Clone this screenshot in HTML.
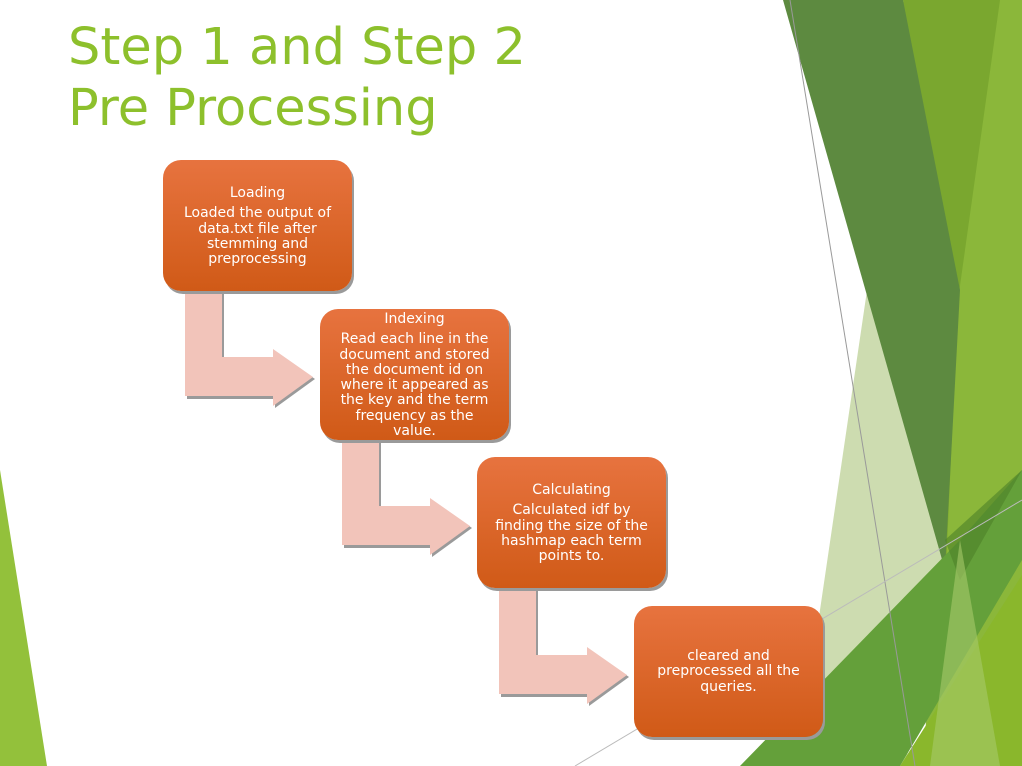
<!DOCTYPE html>
<html><head><meta charset="utf-8"><style>
body{margin:0;width:1022px;height:766px;overflow:hidden;background:#fff;position:relative;font-family:"DejaVu Sans","Liberation Sans",sans-serif}
svg{position:absolute;left:0;top:0}
.t{position:absolute;left:68px;color:#8dc02c;font-size:51px;line-height:61px;top:17px;font-family:"DejaVu Sans",sans-serif}
.b{position:absolute;width:189px;height:131px;border-radius:18px;background:linear-gradient(#e7733f,#d05a17);box-shadow:2px 3px 0 #9a9a9a;color:#fff;font-size:14px;line-height:15.3px;text-align:center;box-sizing:border-box;padding:0 14px}
</style></head><body>
<svg width="1022" height="766">
<polygon points="0,470 47,766 0,766" fill="#93c13b"/>
<polygon points="940,0 1022,0 1022,766 925,766" fill="#8bb73a"/>
<polygon points="903,0 1000,0 958,300 946,570" fill="#7aa72f"/>
<polygon points="820,610 870,270 945,570 905,766 800,766" fill="#cddcb0"/>
<polygon points="783,0 903,0 960,290 945,570" fill="#5d8a40"/>
<polygon points="740,766 960,540 1022,470 1022,560 900,766" fill="#64a03a"/>
<polygon points="945,540 1022,470 960,580" fill="#4d8028" opacity="0.6"/>
<polygon points="900,766 1022,575 1022,766" fill="#8ab72c"/>
<polygon points="930,766 960,540 1000,766" fill="#a6ca6a" opacity="0.6"/>
<line x1="790" y1="0" x2="915" y2="766" stroke="#999" stroke-width="1"/>
<line x1="575" y1="766" x2="1022" y2="500" stroke="#bbb" stroke-width="1"/>
<g fill="#9a9a9a">
<polygon points="187,294 224,294 224,359 275,359 275,351 315,379 275,408 275,399 187,399"/>
<polygon points="344,442 381,442 381,508 432,508 432,500 472,528 432,557 432,548 344,548"/>
<polygon points="501,591 538,591 538,657 589,657 589,649 629,677 589,706 589,697 501,697"/>
</g>
<g fill="#f2c4ba">
<polygon points="185,292 222,292 222,357 273,357 273,349 313,377 273,406 273,396 185,396"/>
<polygon points="342,440 379,440 379,506 430,506 430,498 470,526 430,555 430,545 342,545"/>
<polygon points="499,589 536,589 536,655 587,655 587,647 627,675 587,704 587,694 499,694"/>
</g>
</svg>
<div class="t">Step 1 and Step 2<br>Pre Processing</div>
<div class="b" style="left:163px;top:160px;padding-top:26px">Loading<div style="margin-top:5px">Loaded the output of data.txt file after stemming and preprocessing</div></div>
<div class="b" style="left:320px;top:309px;padding-top:3px">Indexing<div style="margin-top:5px">Read each line in the document and stored the document id on where it appeared as the key and the term frequency as the value.</div></div>
<div class="b" style="left:477px;top:457px;padding-top:26px">Calculating<div style="margin-top:5px">Calculated idf by finding the size of the hashmap each term points to.</div></div>
<div class="b" style="left:634px;top:606px;padding-top:43px">cleared and preprocessed all the queries.</div>
</body></html>
